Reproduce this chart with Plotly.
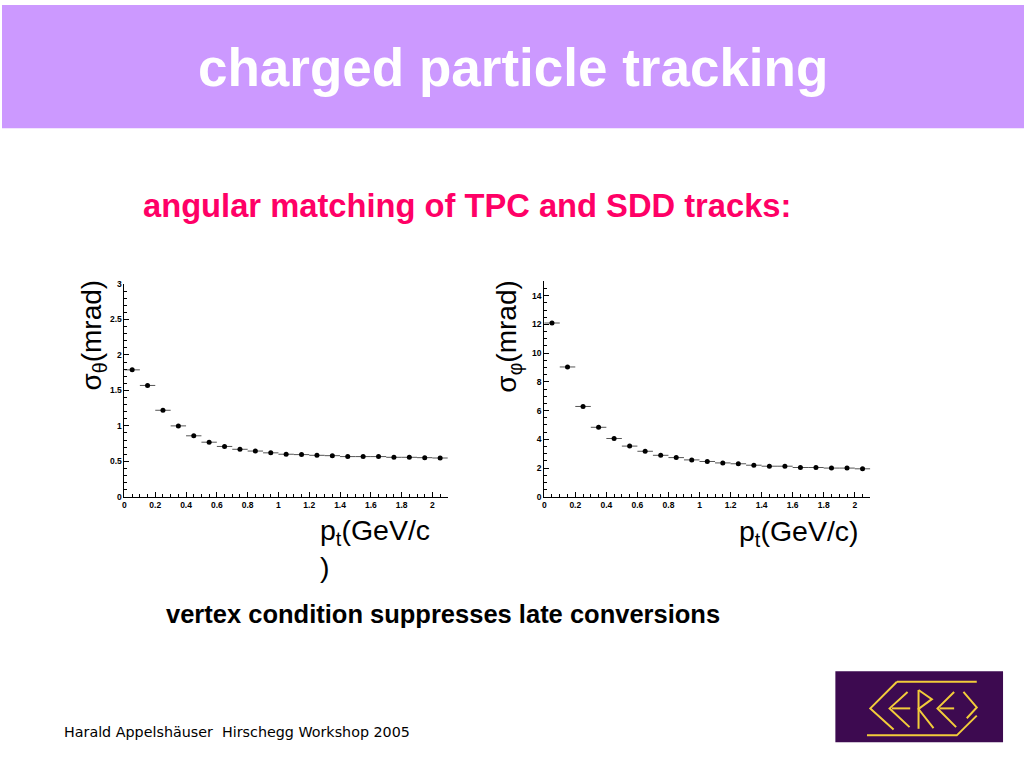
import plotly.graph_objects as go

# ---- data ----
pt_bins = [0.05, 0.15, 0.25, 0.35, 0.45, 0.55, 0.65, 0.75, 0.85, 0.95, 1.05,
           1.15, 1.25, 1.35, 1.45, 1.55, 1.65, 1.75, 1.85, 1.95, 2.05]
bin_halfwidth = [0.05] * len(pt_bins)
sigma_theta = [1.79, 1.57, 1.22, 1.00, 0.86, 0.77, 0.71, 0.67, 0.645, 0.62, 0.60,
               0.595, 0.585, 0.58, 0.567, 0.567, 0.567, 0.557, 0.557, 0.552, 0.547]
sigma_phi = [12.1, 9.04, 6.29, 4.84, 4.06, 3.53, 3.17, 2.89, 2.73, 2.57, 2.46,
             2.36, 2.30, 2.20, 2.13, 2.13, 2.04, 2.04, 2.00, 2.00, 1.95]

W, H = 1024, 768
def px(x):
    return x / W
def py(y):
    return 1 - y / H

fig = go.Figure()

marker = dict(color="black", size=5, symbol="circle")
err = dict(type="data", array=bin_halfwidth, symmetric=True, color="#555555",
           thickness=1, width=0)

fig.add_trace(go.Scatter(x=pt_bins, y=sigma_theta, mode="markers", marker=marker,
                         error_x=err, xaxis="x", yaxis="y", showlegend=False))
fig.add_trace(go.Scatter(x=pt_bins, y=sigma_phi, mode="markers", marker=marker,
                         error_x=err, xaxis="x2", yaxis="y2", showlegend=False))

tickfont = dict(family="Liberation Sans, Arial", size=8.5, color="black", weight="bold")
common = dict(showline=True, linecolor="black", linewidth=1, showgrid=False,
              zeroline=False, ticks="inside", ticklen=5, tickcolor="black",
              tickwidth=1, tickfont=tickfont, mirror=False)
minor = lambda d: dict(dtick=d, ticklen=2.5, ticks="inside", tickcolor="black")

fig.update_layout(
    autosize=True, margin=dict(l=0, r=0, t=0, b=0, pad=0),
    paper_bgcolor="white", plot_bgcolor="white",
    xaxis=dict(domain=[px(122.7), px(446.7)], range=[0, 2.1], dtick=0.2,
               anchor="y", minor=minor(0.05), **common),
    yaxis=dict(domain=[py(498.3), py(282.7)], range=[0, 3], dtick=0.5,
               anchor="x", minor=minor(0.1), **common),
    xaxis2=dict(domain=[px(543.3), px(870)], range=[0, 2.1], dtick=0.2,
                anchor="y2", minor=minor(0.05), **common),
    yaxis2=dict(domain=[py(498.3), py(280)], range=[0, 15], dtick=2,
                anchor="x2", minor=minor(0.5), **common),
)

# header band
fig.add_shape(type="rect", xref="paper", yref="paper", x0=0, x1=1,
              y0=py(125), y1=1, fillcolor="#CC99FF", line=dict(width=0),
              layer="below")

sans = "Liberation Sans, Arial, Helvetica"
ann = []
ann.append(dict(text="<b>charged particle tracking</b>", x=px(511.5), y=py(63),
                font=dict(family=sans, size=53, color="white")))
ann.append(dict(text="<b>angular matching of TPC and SDD tracks:</b>", x=px(465.5), y=py(203),
                font=dict(family=sans, size=32.7, color="#FF0066")))
ann.append(dict(text="<b>vertex condition suppresses late conversions</b>", x=px(441.5), y=py(617),
                font=dict(family=sans, size=25.5, color="black")))
ann.append(dict(text="Harald Appelshäuser  Hirschegg Workshop 2005", x=px(60), y=py(737),
                xanchor="left", font=dict(family="DejaVu Sans, Verdana", size=14.3, color="black")))
ann.append(dict(text="σ<sub>θ</sub>(mrad)", x=px(92), y=py(334), textangle=-90,
                font=dict(family=sans, size=28, color="black")))
ann.append(dict(text="σ<sub>φ</sub>(mrad)", x=px(508), y=py(336), textangle=-90,
                font=dict(family=sans, size=28, color="black")))
ann.append(dict(text="p<sub>t</sub>(GeV/c<br>)", x=px(317), y=py(551), xanchor="left",
                align="left", font=dict(family=sans, size=28.5, color="black")))
ann.append(dict(text="p<sub>t</sub>(GeV/c)", x=px(736), y=py(535), xanchor="left",
                font=dict(family=sans, size=28.5, color="black")))
for a in ann:
    a.setdefault("xref", "paper")
    a.setdefault("yref", "paper")
    a.setdefault("showarrow", False)
    a.setdefault("xanchor", "center")
    a.setdefault("yanchor", "middle")
    fig.add_annotation(**a)

# CERES logo (decorative)
fig.add_shape(type="rect", xref="paper", yref="paper", x0=px(835), x1=px(1003),
              y0=py(747), y1=py(675), fillcolor="#3D0A50", line=dict(width=0))

def lz(pts):
    return "M" + " L".join(f"{px(830 + zx / 3):.5f},{py(670 + zy / 3):.5f}" for zx, zy in pts)

strokes = [
    [(200, 47), (440, 47)],
    [(200, 47), (120, 128), (190, 192)],
    [(232, 78), (178, 128), (238, 185)],
    [(185, 128), (240, 128)],
    [(265, 72), (265, 190)],
    [(265, 72), (305, 100), (265, 130), (310, 188)],
    [(372, 78), (322, 128), (378, 185)],
    [(328, 128), (372, 128)],
    [(400, 78), (440, 125), (410, 158)],
    [(110, 210), (380, 210), (440, 150)],
]
for s in strokes:
    fig.add_shape(type="path", xref="paper", yref="paper", path=lz(s),
                  line=dict(color="#F2CC3A", width=2))

post = ("document.documentElement.style.margin='0';document.documentElement.style.padding='0';"
        "document.documentElement.style.overflow='hidden';"
        "document.body.style.margin='0';document.body.style.padding='0';"
        "document.body.style.overflow='hidden';"
        "var d=document.getElementById('{plot_id}');"
        "d.style.position='fixed';d.style.left='0px';d.style.top='0px';"
        "d.style.width='100vw';d.style.height='100vh';"
        "Plotly.Plots.resize(d);")
fig.write_html("out.html", config={"displayModeBar": False, "responsive": True},
               default_width="100vw", default_height="100vh", post_script=post)
